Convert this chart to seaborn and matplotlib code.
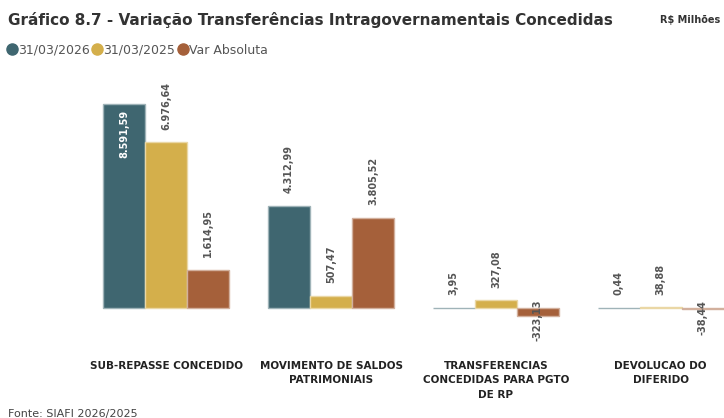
import matplotlib
matplotlib.use("Agg")
import matplotlib.pyplot as plt
from matplotlib.lines import Line2D
from matplotlib.colors import to_rgb
import seaborn as sns
import pandas as pd

categorias = ["SUB-REPASSE CONCEDIDO", "MOVIMENTO DE SALDOS\nPATRIMONIAIS",
              "TRANSFERENCIAS\nCONCEDIDAS PARA PGTO\nDE RP", "DEVOLUCAO DO\nDIFERIDO"]
series = ["31/03/2026", "31/03/2025", "Var Absoluta"]
v2026 = [8591.59, 4312.99, 3.95, 0.44]
v2025 = [6976.64, 507.47, 327.08, 38.88]
var_abs = [1614.95, 3805.52, -323.13, -38.44]
cores = ["#3F6670", "#D4AF4B", "#A5603A"]

df = pd.DataFrame({
    "cat": categorias * 3,
    "serie": [s for s in series for _ in categorias],
    "valor": v2026 + v2025 + var_abs,
})

def br(v):
    return f"{v:,.2f}".replace(",", "X").replace(".", ",").replace("X", ".")

sns.set_style("white")
fig = plt.figure(figsize=(7.24, 4.18), dpi=100)
ax = fig.add_axes([84 / 724, 1 - 340 / 418, 659 / 724, 265 / 418])
sns.barplot(data=df, x="cat", y="valor", hue="serie", palette=cores,
            width=0.765, ax=ax, legend=False, saturation=1)

# light edge like the original
for cont, c in zip(ax.containers, cores):
    r, g, b = to_rgb(c)
    light = (r + (1 - r) * 0.5, g + (1 - g) * 0.5, b + (1 - b) * 0.5)
    for bar in cont:
        bar.set_edgecolor(light)
        bar.set_linewidth(1.0)

ax.set_ylim(-1347, 9810)
ax.set_xlim(-0.5, 3.5)
for s in ax.spines.values():
    s.set_visible(False)
ax.set_yticks([])
ax.set_xlabel("")
ax.set_ylabel("")
ax.tick_params(axis="x", length=0, pad=15)
for t in ax.get_xticklabels():
    t.set_fontsize(7.5)
    t.set_fontweight("bold")
    t.set_color("#222222")
    t.set_linespacing(1.55)
    t.set_va("top")

# data labels
vals = [v2026, v2025, var_abs]
for cont, vs in zip(ax.containers, vals):
    for bar, v in zip(cont, vs):
        xc = bar.get_x() + bar.get_width() / 2
        if v > 8000:
            ax.annotate(br(v), (xc, v), xytext=(0, -4), textcoords="offset points",
                        rotation=90, ha="center", va="top", fontsize=7,
                        fontweight="bold", color="white")
        elif v >= 0:
            ax.annotate(br(v), (xc, v), xytext=(0, 9), textcoords="offset points",
                        rotation=90, ha="center", va="bottom", fontsize=7,
                        fontweight="bold", color="#555555")
        else:
            ax.annotate(br(v), (xc, 0), xytext=(0, 6), textcoords="offset points",
                        rotation=90, ha="center", va="top", fontsize=7,
                        fontweight="bold", color="#555555")

fig.text(8 / 724, 1 - 20 / 418, "Gráfico 8.7 - Variação Transferências Intragovernamentais Concedidas",
         fontsize=11, fontweight="bold", color="#333333", va="center")
fig.text(720 / 724, 1 - 20 / 418, "R$ Milhões", fontsize=7, fontweight="bold",
         color="#333333", va="center", ha="right")

handles = [Line2D([], [], marker="o", linestyle="", markersize=8, color=c) for c in cores]
fig.legend(handles, series, loc="center left", bbox_to_anchor=(3 / 724, 1 - 50 / 418),
           ncol=3, frameon=False, handlelength=0.6, handletextpad=0.2,
           columnspacing=0.3, fontsize=9, labelcolor="#555555", borderaxespad=0)

fig.text(8 / 724, 1 - 414 / 418, "Fonte: SIAFI 2026/2025", fontsize=8, color="#444444", va="center")

fig.savefig("out.png", dpi=100)
